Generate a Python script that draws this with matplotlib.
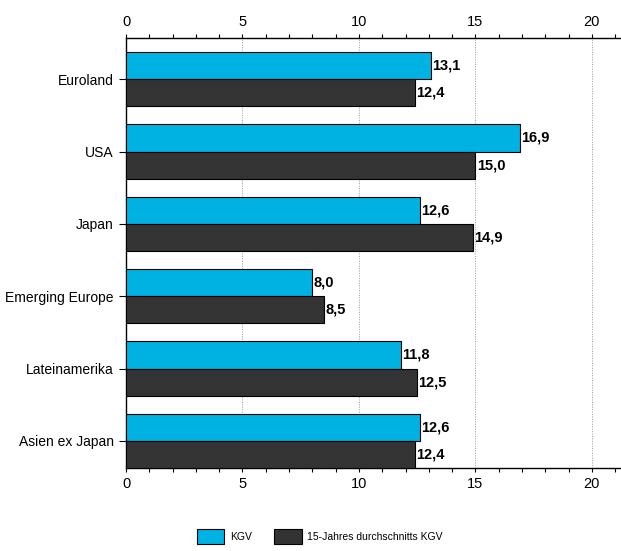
import numpy as np
import matplotlib
matplotlib.use("Agg")
from matplotlib import pyplot as plt
from matplotlib.ticker import MultipleLocator

plt.rcParams['font.family'] = ['Liberation Sans', 'DejaVu Sans']

# data
regions = ["Euroland", "USA", "Japan", "Emerging Europe", "Lateinamerika", "Asien ex Japan"]
kgv = [13.1, 16.9, 12.6, 8.0, 11.8, 12.6]
kgv_15y = [12.4, 15.0, 14.9, 8.5, 12.5, 12.4]
series_names = ["KGV", "15-Jahres durchschnitts KGV"]

cyan = "#00B2E2"
dark = "#333333"

fig = plt.figure(figsize=(6.21, 5.51), dpi=100)
ax = fig.add_axes([126 / 621, 83 / 551, 495 / 621, 430 / 551])

y = np.arange(len(regions))
h = 0.375
b1 = ax.barh(y - h / 2, kgv, height=h, color=cyan, edgecolor="black", linewidth=0.8,
             label=series_names[0], zorder=3)
b2 = ax.barh(y + h / 2, kgv_15y, height=h, color=dark, edgecolor="black", linewidth=0.8,
             label=series_names[1], zorder=3)

# value labels, German decimal comma
for bars, vals in ((b1, kgv), (b2, kgv_15y)):
    for bar, v in zip(bars, vals):
        ax.text(v + 0.06, bar.get_y() + bar.get_height() / 2, f"{v:.1f}".replace(".", ","),
                va="center", ha="left", fontsize=10.5, fontweight="bold")

ax.set_xlim(0, 21.25)
ax.set_ylim(5 + 0.375, -0.57)
ax.set_yticks(y)
ax.set_yticklabels(regions, fontsize=10)

ax.xaxis.set_major_locator(MultipleLocator(5))
ax.xaxis.set_minor_locator(MultipleLocator(1))
ax.tick_params(axis="x", which="both", top=True, labeltop=True, bottom=True, labelbottom=True,
               direction="out", length=3, width=0.8, labelsize=10.5)
ax.tick_params(axis="y", direction="out", length=5, width=0.8, pad=4)

for xv in [5, 10, 15, 20]:
    ax.axvline(xv, color="#999999", linestyle=(0, (1, 1.5)), linewidth=0.7, zorder=1)

ax.spines["right"].set_visible(False)
for s in ["top", "bottom", "left"]:
    ax.spines[s].set_linewidth(1.0)

fig.legend(loc="lower center", bbox_to_anchor=(0.515, -0.005), ncol=2, frameon=False,
           fontsize=7.5, handlelength=2.6, handleheight=1.9, columnspacing=2.2,
           handletextpad=0.5)

fig.savefig("out.png", dpi=100)
